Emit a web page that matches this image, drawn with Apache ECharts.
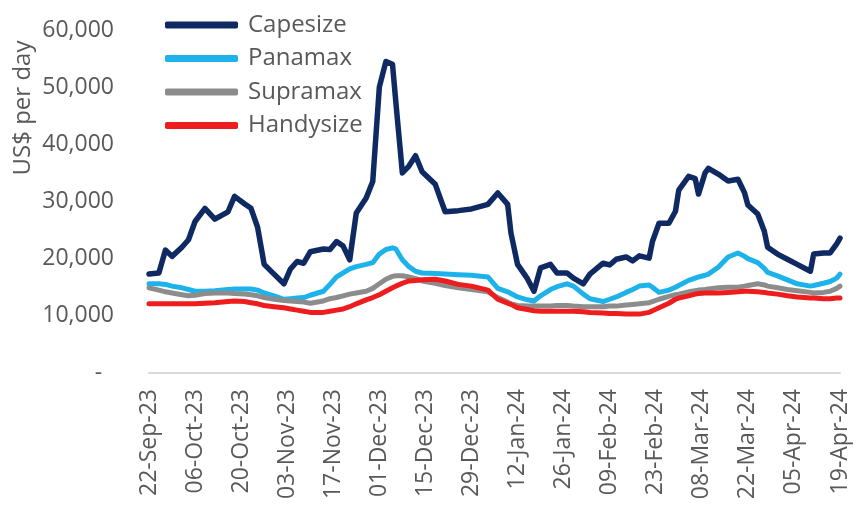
<!DOCTYPE html>
<html>
<head>
<meta charset="utf-8">
<script src="https://cdn.jsdelivr.net/npm/echarts@6.0.0/dist/echarts.min.js"></script>
<style>
  html, body { margin: 0; padding: 0; background: #fff; }
  #chart { width: 856px; height: 508px; }
</style>
</head>
<body>
<div id="chart"></div>
<script>
// sample dates (daily timecharter earnings, US$ per day)
var dates = [
  '2023-09-22','2023-09-25','2023-09-27','2023-09-29','2023-10-02','2023-10-04','2023-10-06','2023-10-09','2023-10-12','2023-10-16',
  '2023-10-18','2023-10-21','2023-10-23','2023-10-25','2023-10-27','2023-10-30','2023-11-02','2023-11-04','2023-11-06','2023-11-08',
  '2023-11-10','2023-11-14','2023-11-16','2023-11-18','2023-11-20','2023-11-22','2023-11-24','2023-11-27','2023-11-29','2023-12-01',
  '2023-12-03','2023-12-05','2023-12-06','2023-12-08','2023-12-10','2023-12-12','2023-12-14','2023-12-18','2023-12-21','2023-12-25',
  '2023-12-29','2024-01-03','2024-01-06','2024-01-09','2024-01-10','2024-01-12','2024-01-15','2024-01-17','2024-01-19','2024-01-22',
  '2024-01-24','2024-01-27','2024-01-29','2024-02-01','2024-02-03','2024-02-07','2024-02-09','2024-02-11','2024-02-14','2024-02-16',
  '2024-02-18','2024-02-21','2024-02-22','2024-02-24','2024-02-27','2024-02-29','2024-03-01','2024-03-04','2024-03-06','2024-03-07',
  '2024-03-09','2024-03-10','2024-03-13','2024-03-16','2024-03-19','2024-03-21','2024-03-22','2024-03-25','2024-03-27','2024-03-28',
  '2024-03-31','2024-04-03','2024-04-06','2024-04-10','2024-04-11','2024-04-14','2024-04-16','2024-04-18','2024-04-19'
];

var capesize = [
  17300,17500,21500,20400,22000,23300,26500,28800,26900,28200,
  30900,29600,28800,25500,19000,17300,15600,18200,19500,19200,
  21200,21700,21600,23000,22200,19800,28000,30600,33500,50000,
  54500,54000,47500,35000,36200,38000,35200,33000,28200,28400,
  28700,29500,31500,29500,24500,19000,16500,14300,18400,19000,
  17500,17500,16600,15600,17300,19200,18900,19900,20300,19600,
  20500,20100,23000,26200,26200,28300,32000,34400,34000,31300,
  35000,35800,34800,33600,33900,31500,29400,27800,24800,22000,
  20800,19900,19000,17800,20800,21000,21000,22600,23600
];

var panamax = [
  15600,15600,15500,15200,14900,14600,14300,14300,14400,14600,
  14700,14700,14700,14500,14000,13500,12900,13000,13100,13200,
  13600,14300,15500,16800,17500,18200,18600,19000,19300,20800,
  21600,21900,21700,19800,18600,17800,17500,17400,17300,17200,
  17100,16800,14800,14200,13900,13300,12800,12600,13500,14600,
  15100,15600,15200,13800,13000,12500,12900,13300,14100,14600,
  15200,15400,15000,14100,14500,15000,15300,16200,16600,16800,
  17100,17300,18500,20300,21000,20400,20000,19300,18300,17600,
  17000,16300,15600,15200,15300,15700,16000,16600,17300
];

var supramax = [
  14900,14500,14200,14000,13700,13500,13600,13900,14000,14000,
  13900,13800,13700,13500,13200,12900,12700,12600,12500,12400,
  12200,12600,13000,13200,13500,13800,14000,14300,14800,15600,
  16400,16900,17000,17000,16800,16500,16100,15700,15300,14900,
  14600,14200,13200,12400,12100,11800,11700,11700,11700,11700,
  11800,11800,11700,11600,11600,11600,11700,11700,11900,12000,
  12100,12300,12500,12900,13400,13700,13800,14200,14400,14500,
  14600,14700,14900,15000,15000,15200,15300,15600,15400,15200,
  14900,14600,14400,14100,14000,14100,14300,14800,15200
];

var handysize = [
  12100,12100,12100,12100,12100,12100,12100,12200,12300,12500,
  12600,12500,12300,12100,11800,11600,11400,11200,11000,10800,
  10600,10600,10800,11000,11200,11600,12100,12800,13200,13700,
  14300,14900,15200,15700,16100,16200,16300,16400,16100,15500,
  15200,14500,12900,12200,12000,11400,11100,10900,10800,10800,
  10800,10800,10800,10700,10600,10500,10400,10400,10300,10300,
  10300,10600,10900,11400,12200,12900,13100,13500,13800,13900,
  14000,14000,14000,14100,14200,14300,14300,14200,14100,14000,
  13800,13500,13300,13100,13100,13000,13000,13100,13100
];

// x tick labels, one every 14 days from the first date
var xTickLabels = ['22-Sep-23','06-Oct-23','20-Oct-23','03-Nov-23','17-Nov-23','01-Dec-23','15-Dec-23','29-Dec-23',
  '12-Jan-24','26-Jan-24','09-Feb-24','23-Feb-24','08-Mar-24','22-Mar-24','05-Apr-24','19-Apr-24'];

var seriesNames = ['Capesize','Panamax','Supramax','Handysize'];
var seriesColors = ['#0f2a63','#1db3ea','#8c8c8c','#ee1c1c'];

var start = Date.parse(dates[0]);
function dayOf(s) { return Math.round((Date.parse(s) - start) / 86400000); }
function pairs(vals) { return dates.map(function (d, i) { return [dayOf(d), vals[i]]; }); }

var textColor = '#595959';
var font = '"Open Sans", "Noto Sans", sans-serif';

var myChart = echarts.init(document.getElementById('chart'));
var option = {
  animation: false,
  grid: { left: 149, right: 16, top: 30, bottom: 135, outerBoundsMode: 'none' },
  legend: {
    orient: 'vertical',
    left: 165,
    top: 9,
    padding: [4, 5, 5, 0],
    icon: 'roundRect',
    itemWidth: 73,
    itemHeight: 7,
    itemGap: 9.5,
    data: seriesNames,
    textStyle: { color: textColor, fontFamily: font, fontSize: 24, lineHeight: 24, padding: [0, 0, 0, 5] }
  },
  graphic: [{
    type: 'text',
    x: 23, y: 108,
    rotation: Math.PI / 2,
    style: {
      text: 'US$ per day', fill: textColor, font: '24px ' + font,
      textAlign: 'center', textVerticalAlign: 'middle'
    }
  }],
  xAxis: {
    type: 'value',
    min: 0, max: 210, interval: 14,
    splitLine: { show: false },
    axisTick: { show: false },
    axisLine: { show: true, lineStyle: { color: '#d9d9d9', width: 2 } },
    axisLabel: {
      rotate: 90, margin: 16, color: textColor, fontFamily: font, fontSize: 23,
      formatter: function (v) { return xTickLabels[Math.round(v / 14)]; }
    }
  },
  yAxis: {
    type: 'value',
    min: 0, max: 60000, interval: 10000,
    splitLine: { show: false },
    axisTick: { show: false },
    axisLine: { show: false },
    axisLabel: {
      margin: 35, color: textColor, fontFamily: font, fontSize: 23,
      formatter: function (v) { return v === 0 ? '-  ' : v.toLocaleString('en-US'); }
    }
  },
  series: [capesize, panamax, supramax, handysize].map(function (vals, i) {
    return {
      name: seriesNames[i],
      type: 'line',
      showSymbol: false,
      color: seriesColors[i],
      lineStyle: { width: i === 0 ? 5.5 : 5, cap: 'round', join: 'round' },
      data: pairs(vals)
    };
  })
};
myChart.setOption(option);
</script>
</body>
</html>
